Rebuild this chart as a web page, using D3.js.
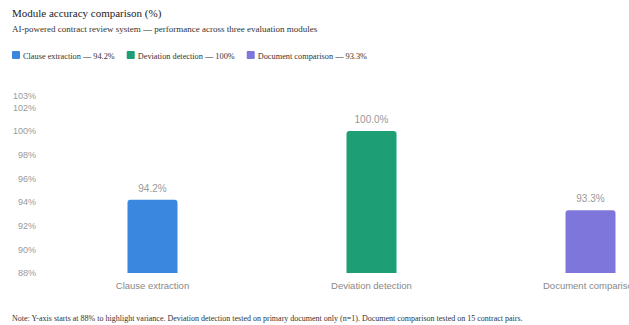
<!DOCTYPE html>
<html>
<head>
<meta charset="utf-8">
<script src="https://cdn.jsdelivr.net/npm/d3@7"></script>
<style>
  body { margin: 0; background: #fff; overflow: hidden; }
  svg { display: block; }
</style>
</head>
<body>
<svg id="chart"></svg>
<script>
// chart data
const modules = ["Clause extraction", "Deviation detection", "Document comparison"];
const accuracy = [94.2, 100, 93.3];
const legendLabels = ["Clause extraction — 94.2%", "Deviation detection — 100%", "Document comparison — 93.3%"];
const colors = ["#3987de", "#1d9e75", "#7e76db"];
const yTicks = [88, 90, 92, 94, 96, 98, 100, 102, 103];

const width = 629, height = 325;
const serif = "'Liberation Serif', 'Times New Roman', serif";
const sans = "'Liberation Sans', Arial, sans-serif";

let svg = d3.select("#chart")
    .attr("width", width)
    .attr("height", height);

// title + subtitle
svg.append("text")
    .attr("x", 12).attr("y", 17)
    .style("font-family", serif)
    .style("font-size", "11px")
    .style("fill", "#222")
    .text("Module accuracy comparison (%)");

svg.append("text")
    .attr("x", 12).attr("y", 32)
    .style("font-family", serif)
    .style("font-size", "9px")
    .style("fill", "#333")
    .text("AI-powered contract review system — performance across three evaluation modules");

// legend
let lx = 12;
legendLabels.forEach((lab, i) => {
    svg.append("rect")
        .attr("x", lx).attr("y", 51)
        .attr("width", 8).attr("height", 8)
        .attr("rx", 1)
        .style("fill", colors[i]);
    let t = svg.append("text")
        .attr("x", lx + 11).attr("y", 58.5)
        .style("font-family", serif)
        .style("font-size", "8.3px")
        .style("fill", "#333")
        .text(lab);
    lx += 11 + t.node().getComputedTextLength() + 12;
});

// scales
let y = d3.scaleLinear().domain([88, 103]).range([273, 95.5]);
let x = d3.scaleBand()
    .domain(modules)
    .range([43, 700])
    .paddingInner(0.7717)
    .paddingOuter(0.3858);

// y axis (labels only)
let yAxis = d3.axisLeft(y)
    .tickValues(yTicks)
    .tickFormat(d => d + "%")
    .tickSize(0)
    .tickPadding(0);

let yg = svg.append("g")
    .attr("transform", "translate(36,0)")
    .call(yAxis);
yg.select(".domain").remove();
yg.selectAll("text")
    .style("font-family", sans)
    .style("font-size", "9px")
    .style("fill", "#999");

// x axis (category labels only)
let xAxis = d3.axisBottom(x).tickSize(0).tickPadding(9);
let xg = svg.append("g")
    .attr("transform", "translate(0,273)")
    .call(xAxis);
xg.select(".domain").remove();
xg.selectAll("text")
    .style("font-family", sans)
    .style("font-size", "9.5px")
    .style("fill", "#888");

// bars with rounded top corners
function barPath(x0, w, top, bottom, r) {
    return "M" + x0 + "," + bottom +
        "V" + (top + r) +
        "Q" + x0 + "," + top + " " + (x0 + r) + "," + top +
        "H" + (x0 + w - r) +
        "Q" + (x0 + w) + "," + top + " " + (x0 + w) + "," + (top + r) +
        "V" + bottom + "Z";
}

let bars = svg.append("g").selectAll("g")
    .data(modules.map((m, i) => ({ name: m, value: accuracy[i], color: colors[i] })))
    .enter().append("g");

bars.append("path")
    .attr("d", d => barPath(x(d.name), x.bandwidth(), y(d.value), y(88), 3))
    .style("fill", d => d.color);

bars.append("text")
    .attr("x", d => x(d.name) + x.bandwidth() / 2)
    .attr("y", d => y(d.value) - 8)
    .attr("text-anchor", "middle")
    .style("font-family", sans)
    .style("font-size", "10px")
    .style("fill", "#999")
    .text(d => d.value.toFixed(1) + "%");

// footnote
svg.append("text")
    .attr("x", 12).attr("y", 321)
    .style("font-family", serif)
    .style("font-size", "8px")
    .style("fill", "#333")
    .text("Note: Y-axis starts at 88% to highlight variance. Deviation detection tested on primary document only (n=1). Document comparison tested on 15 contract pairs.");
</script>
</body>
</html>
